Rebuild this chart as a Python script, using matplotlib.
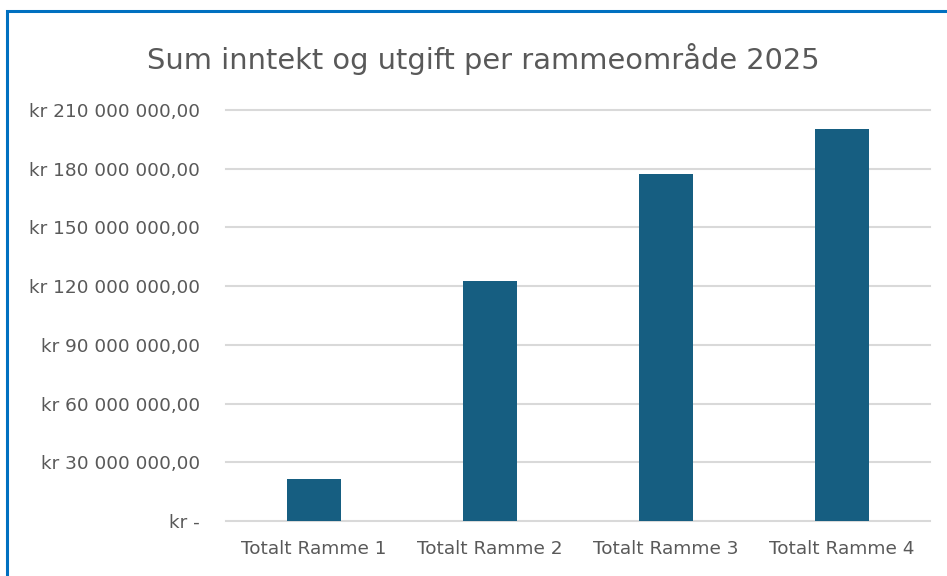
import matplotlib
matplotlib.use('Agg')
import matplotlib.pyplot as plt
import matplotlib.ticker as mtick
from matplotlib.patches import Rectangle

categories = ['Totalt Ramme 1', 'Totalt Ramme 2', 'Totalt Ramme 3', 'Totalt Ramme 4']
values = [21_500_000, 122_700_000, 177_300_000, 200_300_000]
yticks = list(range(0, 210_000_001, 30_000_000))

plt.rcParams['font.family'] = ['DejaVu Sans']

text_color = '#595959'
bar_color = '#165E81'
grid_color = '#D9D9D9'


def kr_format(v, pos=None):
    if v == 0:
        return 'kr -'
    s = f'{v:,.2f}'.replace(',', ' ').replace('.', ',')
    return f'kr {s}'


fig = plt.figure(figsize=(9.47, 5.76), dpi=100)
ax = fig.add_axes([0.2387, 0.0955, 0.7433, 0.7135])

ax.bar(range(len(categories)), values, width=0.31, color=bar_color, zorder=3)

ax.set_xlim(-0.5, len(categories) - 0.5)
ax.set_ylim(0, 210_000_000)
ax.set_yticks(yticks)
ax.yaxis.set_major_formatter(mtick.FuncFormatter(kr_format))
ax.set_xticks(range(len(categories)))
ax.set_xticklabels(categories)

ax.grid(axis='y', color=grid_color, linewidth=1.5, zorder=0)
for line in ax.get_ygridlines():
    line.set_clip_on(False)
for s in ax.spines.values():
    s.set_visible(False)
ax.tick_params(axis='both', length=0, labelsize=13.3, labelcolor=text_color)
ax.tick_params(axis='y', pad=19)
ax.tick_params(axis='x', pad=14)

fig.text(0.51, 0.897, 'Sum inntekt og utgift per rammeområde 2025',
         ha='center', va='center', fontsize=20.8, color=text_color)

# chart frame
fig.patches.append(Rectangle((7 / 947, -0.05), 1.0, 0.05 + (576 - 11) / 576,
                             transform=fig.transFigure, fill=False,
                             edgecolor='#0070C0', linewidth=2.2))

fig.savefig('out.png', dpi=100)
